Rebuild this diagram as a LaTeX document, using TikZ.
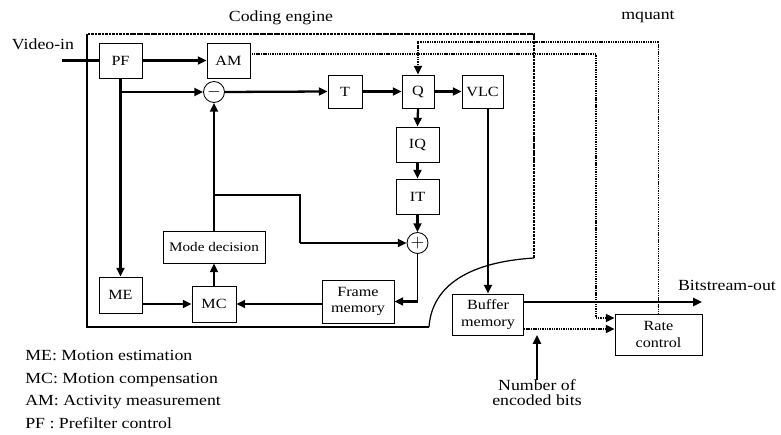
\documentclass[tikz,border=0pt]{standalone}
\usepackage{fontspec}
\setmainfont{Liberation Serif}[FakeStretch=1.15]
\usetikzlibrary{arrows.meta}

\newcommand\enclabelstyle{\fontsize{8.8}{10}\selectfont}
\newcommand\encboxstyle{\fontsize{8}{9.5}\selectfont}
\newcommand\enclinewidth{1.3pt}

\tikzset{
  encbox/.style={draw, line width=0.5pt, font=\encboxstyle, align=center, inner sep=1pt},
  encsum/.style={draw, line width=0.5pt, circle, minimum size=0.42cm, inner sep=0pt},
  enclabel/.style={font=\enclabelstyle, align=center, inner sep=0pt},
  encline/.style={line width=\enclinewidth},
  encthin/.style={line width=0.6pt},
  encdata/.style={encline, -{Triangle[length=5pt,width=4.5pt]}},
  encctl/.style={line width=1.1pt, dash pattern=on 0.6pt off 0.4pt, -{Triangle[length=5pt,width=4.5pt]}},
}

\begin{document}
\begin{tikzpicture}[x=0.02cm, y=-0.02cm]
    \useasboundingbox (0,0) rectangle (781,435);
    % coding engine outline
    \draw[encline] (87,34) -- (87,327) -- (429,327);
    \draw[line width=0.7pt] (429,327) .. controls (432,285) and (470,262) .. (534,258);
    \draw[line width=0.7pt, dash pattern=on 1.5pt off 0.5pt] (534,258) -- (534,34) -- (87,34);
    \node[enclabel] (engine) at (281,18) {Coding engine};

    \node[encbox, minimum width=0.86cm, minimum height=0.7cm] (PF) at (120.5,60.5) {PF};
    \node[encbox, minimum width=0.86cm, minimum height=0.7cm] (AM) at (228.5,60.5) {AM};
    \node[encsum] (minus) at (214,92) {$-$};
    \node[encbox, minimum width=0.68cm, minimum height=0.66cm] (T) at (345,91.5) {T};
    \node[encbox, minimum width=0.64cm, minimum height=0.66cm] (Q) at (418,91.5) {Q};
    \node[encbox, minimum width=0.82cm, minimum height=0.66cm] (VLC) at (482.5,91.5) {VLC};
    \node[encbox, minimum width=0.86cm, minimum height=0.7cm] (IQ) at (417.5,144.5) {IQ};
    \node[encbox, minimum width=0.86cm, minimum height=0.7cm] (IT) at (417.5,196.5) {IT};
    \node[encsum] (plus) at (417.5,243) {$+$};
    \node[encbox, minimum width=2.04cm, minimum height=0.64cm, font=\fontsize{7.5}{9}\selectfont] (mode) at (214,247) {Mode decision};
    \node[encbox, minimum width=0.86cm, minimum height=0.72cm] (ME) at (120.5,295) {ME};
    \node[encbox, minimum width=0.88cm, minimum height=0.72cm] (MC) at (214,304) {MC};
    \node[encbox, minimum width=1.44cm, minimum height=0.86cm] (frame) at (358,301.5) {Frame\\memory};
    \node[encbox, minimum width=1.42cm, minimum height=0.82cm] (buffer) at (488,314.5) {Buffer\\memory};
    \node[encbox, minimum width=1.74cm, minimum height=0.82cm] (rate) at (658.5,334.5) {Rate\\control};

    \node[enclabel] (videoin) at (43,44) {Video-in};
    \coordinate (vin) at (62,60.5);
    \draw[encline] (vin) -- (PF.west);
    \draw[encdata] (PF.east) -- (AM.west);
    \draw[encdata] (PF.south) -- (ME.north);
    \draw[encdata] (PF.south |- minus) -- (minus.west);
    \draw[encdata] (minus.east) -- (T.west);
    \draw[encdata] (T.east) -- (Q.west);
    \draw[encdata] (Q.east) -- (VLC.west);
    \draw[encdata] (Q.south) -- (IQ.north);
    \draw[encdata] (IQ.south) -- (IT.north);
    \draw[encdata] (IT.south) -- (plus.north);
    \draw[encthin] (plus.south) -- (plus |- frame.east);
    \draw[encdata] (plus |- frame.east) -- (frame.east);
    \draw[encdata] (frame.west |- MC) -- (MC.east);
    \draw[encdata] (ME.east |- MC) -- (MC.west);
    \draw[encdata] (MC.north) -- (mode.south);
    \draw[encdata] (mode.north) -- (minus.south);
    \coordinate (tap) at (214,195);
    \coordinate (bend) at (300,243);
    \draw[encthin] (tap) -| (bend);
    \draw[encdata] (bend) -- (plus.west);
    \draw[encdata] (VLC.south -| buffer) -- (buffer.north);

    \node[enclabel] (bitout) at (727,285) {Bitstream-out};
    \coordinate (bout) at (702,302);
    \draw[encdata] (buffer.east |- bout) -- (bout);

    % rate control loop
    \draw[encctl] (AM.east |- 0,54) -| (596,318) -- (rate.west |- 0,318);
    \draw[encctl] (buffer.east |- 0,329) -- (rate.west |- 0,329);
    \draw[encctl] (rate.north) |- (Q.north |- 0,42) -- (Q.north);
    \node[enclabel] (mquant) at (648,17) {mquant};

    \node[enclabel, font=\fontsize{8.8}{8.6}\selectfont] (nbits) at (537,393) {Number of\\encoded bits};
    \coordinate (nbin) at (537,335);
    \draw[encdata] (nbits.north) -- (nbin);

    \node[enclabel, align=left, anchor=west, font=\fontsize{8.8}{13}\selectfont] (legend) at (25,389.5)
      {ME: Motion estimation\\MC: Motion compensation\\AM: Activity measurement\\PF : Prefilter control};
\end{tikzpicture}
\end{document}
